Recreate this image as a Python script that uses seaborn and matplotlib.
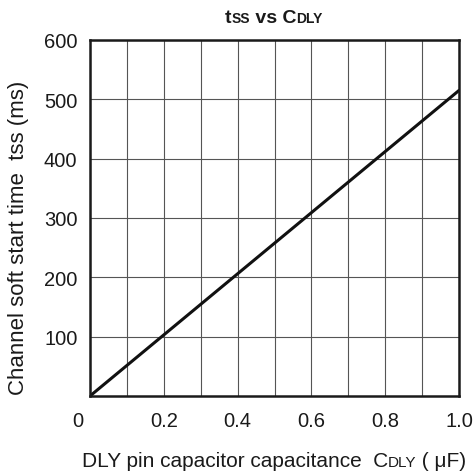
import matplotlib
matplotlib.use('Agg')
import matplotlib.pyplot as plt
import matplotlib.transforms as mtrans
import seaborn as sns
import pandas as pd

# values
cap_uF = [0.0, 0.2, 0.4, 0.6, 0.8, 1.0]
tss_ms = [0, 103, 206, 309, 412, 515]
x_ticks = [0.0, 0.2, 0.4, 0.6, 0.8, 1.0]
x_labels = ['0', '0.2', '0.4', '0.6', '0.8', '1.0']
y_ticks = [100, 200, 300, 400, 500, 600]

sns.set_style('white')
plt.rcParams['font.family'] = ['Liberation Sans', 'DejaVu Sans']

W, H = 475, 477
fig = plt.figure(figsize=(W / 100, H / 100), dpi=100)
ax = fig.add_axes([90 / W, 1 - 397 / H, (459 - 90) / W, (397 - 41) / H])

df = pd.DataFrame({'cap': cap_uF, 'tss': tss_ms})
sns.lineplot(data=df, x='cap', y='tss', ax=ax, color='#111111', linewidth=2.2)

ax.set_xlim(0, 1.0)
ax.set_ylim(0, 600)
ax.set_xticks(x_ticks)
ax.set_xticklabels(x_labels)
ax.set_xticks([0.1, 0.3, 0.5, 0.7, 0.9], minor=True)
ax.set_yticks(y_ticks)
ax.grid(True, which='both', color='#555555', linewidth=0.8)
ax.tick_params(axis='both', which='both', length=0, labelsize=14.5, colors='#1a1a1a')
ax.tick_params(axis='x', pad=11)
ax.tick_params(axis='y', pad=9)
ax.set_xlabel('')
ax.set_ylabel('')
for s in ax.spines.values():
    s.set_color('#1a1a1a')
    s.set_linewidth(1.8)

# the "0" label sits left of the corner
lbl0 = ax.get_xticklabels()[0]
lbl0.set_transform(lbl0.get_transform() + mtrans.ScaledTranslation(-12 / 100, 0, fig.dpi_scale_trans))


def rich_text(parts, xc, yb):
    # parts: list of (text, size, weight); centred at xc px, baseline yb px from top
    rend = fig.canvas.get_renderer()
    arts = []
    widths = []
    for txt, size, weight in parts:
        t = fig.text(0, 0, txt, fontsize=size, fontweight=weight, color='#1a1a1a',
                     ha='left', va='baseline')
        arts.append(t)
        widths.append(t.get_window_extent(rend).width)
    x = xc - sum(widths) / 2
    for t, w in zip(arts, widths):
        t.set_position((x / W, 1 - yb / H))
        x += w


fig.canvas.draw()
rich_text([('t', 14, 'bold'), ('SS', 10, 'bold'), (' vs C', 14, 'bold'),
           ('DLY', 10, 'bold')], 274, 23)
rich_text([('DLY pin capacitor capacitance  C', 15, 'normal'), ('DLY', 11, 'normal'),
           (' ( \u03bcF)', 15, 'normal')], 274, 467)
fig.text(19 / W, 1 - 238 / H, 'Channel soft start time  tss (ms)', fontsize=16,
         rotation=90, ha='center', va='center', color='#1a1a1a')

fig.savefig('out.png', dpi=100)
